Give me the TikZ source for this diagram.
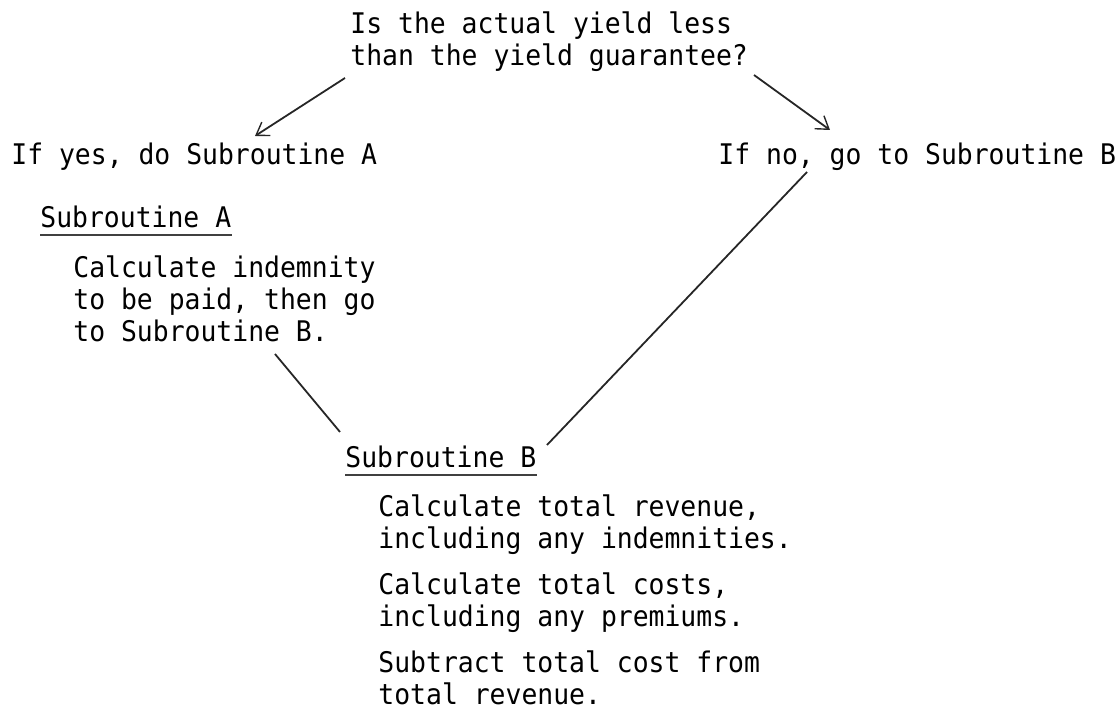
\documentclass[tikz,border=0pt]{standalone}
\usepackage{fontspec}
\newfontfamily\typewriter[FakeStretch=0.93]{DejaVu Sans Mono}
\usetikzlibrary{arrows.meta}
\begin{document}
\begin{tikzpicture}[x=0.5pt,y=-0.5pt,
  txt/.style={inner sep=0pt, anchor=base west, align=left,
    font=\typewriter\fontsize{14.2}{16}\selectfont},
  conn/.style={line width=0.9pt, draw=black!85},
  arr/.style={conn, -{Straight Barb[length=6pt,width=8pt,line width=0.7pt]}},
  uline/.style={line width=0.6pt, draw=black!75}]
\useasboundingbox (0,0) rectangle (1120,710);

% multi-line nodes are anchored at the baseline of their last line
\node[txt] (q) at (350,66) {Is the actual yield less\\than the yield guarantee?};
\node[txt] (yes) at (11,165) {If yes, do Subroutine A};
\node[txt] (no) at (718,165) {If no, go to Subroutine B};
\node[txt] (subA) at (40,228) {Subroutine A};
\node[txt] (calcA) at (73,342) {Calculate indemnity\\to be paid, then go\\to Subroutine B.};
\node[txt] (subB) at (345,468) {Subroutine B};
\node[txt] (rev) at (378,549) {Calculate total revenue,\\including any indemnities.};
\node[txt] (cost) at (378,627) {Calculate total costs,\\including any premiums.};
\node[txt] (net) at (378,705) {Subtract total cost from\\total revenue.};

\draw[uline] ([yshift=-3.5pt]subA.base west) -- ([yshift=-3.5pt]subA.base east);
\draw[uline] ([yshift=-3.5pt]subB.base west) -- ([yshift=-3.5pt]subB.base east);

\coordinate (qL) at (345,78);
\coordinate (yesT) at (255,136);
\coordinate (qR) at (754,75);
\coordinate (noT) at (830,130);
\coordinate (aBot) at (275,354);
\coordinate (bL) at (340,432);
\coordinate (noBot) at (807,172);
\coordinate (bR) at (547,445);

\draw[arr] (qL) -- (yesT);
\draw[arr] (qR) -- (noT);
\draw[conn] (aBot) -- (bL);
\draw[conn] (noBot) -- (bR);
\end{tikzpicture}
\end{document}
